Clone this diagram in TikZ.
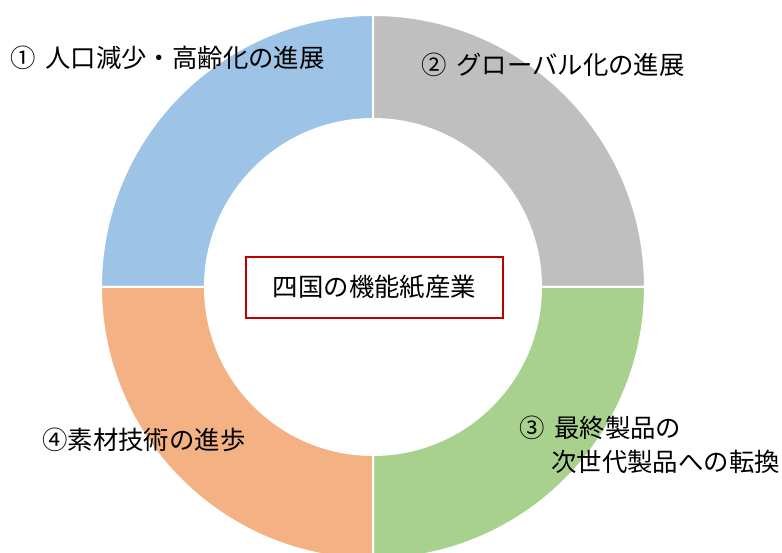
\documentclass[tikz,border=0pt]{standalone}
\usepackage{fontspec}
\newfontfamily\jp{Noto Sans CJK JP}
\usetikzlibrary{calc}
\definecolor{segblue}{HTML}{9DC3E6}
\definecolor{seggray}{HTML}{BFBFBF}
\definecolor{seggreen}{HTML}{A9D18E}
\definecolor{segorange}{HTML}{F4B183}
\definecolor{boxred}{HTML}{C00000}
\begin{document}
\begin{tikzpicture}[x=1pt,y=1pt,
  seg/.style={draw=white,line width=2pt},
  lbl/.style={anchor=west,inner sep=0pt,font=\jp\fontsize{25.4}{30}\selectfont,text=black},
  centerbox/.style={draw=boxred,line width=1.5pt,fill=white,minimum width=257pt,minimum height=61pt,inner sep=0pt,font=\jp\fontsize{25.4}{30}\selectfont}]
\useasboundingbox (0,0) rectangle (782,553);
\coordinate (c) at (373,266);
\def\ro{272}
\def\ri{168}
\foreach \a/\col in {90/segblue,0/seggray,270/seggreen,180/segorange}{
  \path[seg,fill=\col] ($(c)+(\a:\ro)$) arc[start angle=\a,delta angle=90,radius=\ro]
    -- ($(c)+(\a+90:\ri)$) arc[start angle=\a+90,delta angle=-90,radius=\ri] -- cycle;
}
\node[centerbox] (center) at (374.5,265.5) {四国の機能紙産業};
\node[lbl] (l1) at (10,495) {①\hspace{4pt} 人口減少・高齢化の進展};
\node[lbl] (l2) at (421,488) {②\hspace{4pt} グローバル化の進展};
\node[lbl] (l3a) at (519,125) {③\hspace{4pt} 最終製品の};
\node[lbl] (l3b) at (551,91) {次世代製品への転換};
\node[lbl] (l4) at (42,113) {④素材技術の進歩};
\end{tikzpicture}
\end{document}
